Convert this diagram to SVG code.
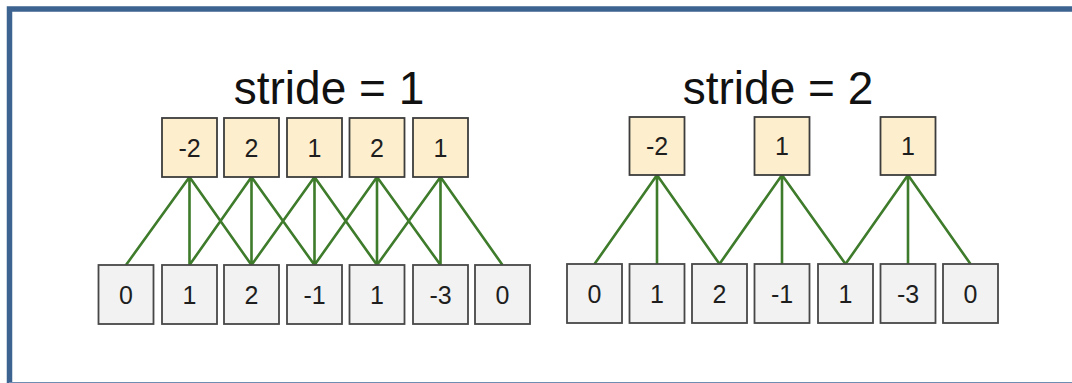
<svg xmlns="http://www.w3.org/2000/svg" width="1072" height="383" viewBox="0 0 1072 383">
<style>
.title{font-family:"Liberation Sans",Arial,sans-serif;font-size:46px;fill:#111;text-anchor:middle}
.num{font-family:"Liberation Sans",Arial,sans-serif;font-size:25px;fill:#1e1e1e;text-anchor:middle}
.out{fill:#fdefcd;stroke:#3c3c3c;stroke-width:1.8}
.in{fill:#f2f2f2;stroke:#474747;stroke-width:1.8}
.edge{stroke:#3e7b2b;stroke-width:2.6;fill:none}
</style>
<rect x="0" y="0" width="1072" height="383" fill="#fff"/>
<path d="M9.5 383 V9 H1072" fill="none" stroke="#3d6390" stroke-width="5.5"/>
<line x1="9" y1="382.5" x2="1072" y2="382.5" stroke="#6f8db0" stroke-width="1.2"/>
<text class="title" x="329" y="104">stride = 1</text>
<text class="title" x="778" y="104">stride = 2</text>
<g id="connectors">
<path class="edge" d="M189.5 177 L126 265 M189.5 177 L189.5 265 M189.5 177 L251.5 265 M251.5 177 L189.5 265 M251.5 177 L251.5 265 M251.5 177 L314.5 265 M314.5 177 L251.5 265 M314.5 177 L314.5 265 M314.5 177 L377 265 M377 177 L314.5 265 M377 177 L377 265 M377 177 L440.5 265 M440.5 177 L377 265 M440.5 177 L440.5 265 M440.5 177 L502.5 265"/>
<path class="edge" d="M657 175 L594.5 264 M657 175 L657 264 M657 175 L719.5 264 M782 175 L719.5 264 M782 175 L782 264 M782 175 L845.5 264 M908 175 L845.5 264 M908 175 L908 264 M908 175 L970.5 264"/>
</g>
<g id="s1-out-0"><rect class="out" x="162" y="118" width="55" height="59"/><text class="num" x="189.5" y="157">-2</text></g>
<g id="s1-out-1"><rect class="out" x="224" y="118" width="55" height="59"/><text class="num" x="251.5" y="157">2</text></g>
<g id="s1-out-2"><rect class="out" x="287" y="118" width="55" height="59"/><text class="num" x="314.5" y="157">1</text></g>
<g id="s1-out-3"><rect class="out" x="349.5" y="118" width="55" height="59"/><text class="num" x="377" y="157">2</text></g>
<g id="s1-out-4"><rect class="out" x="413" y="118" width="55" height="59"/><text class="num" x="440.5" y="157">1</text></g>
<g id="s1-in-0"><rect class="in" x="98.5" y="265" width="55" height="59"/><text class="num" x="126" y="304">0</text></g>
<g id="s1-in-1"><rect class="in" x="162" y="265" width="55" height="59"/><text class="num" x="189.5" y="304">1</text></g>
<g id="s1-in-2"><rect class="in" x="224" y="265" width="55" height="59"/><text class="num" x="251.5" y="304">2</text></g>
<g id="s1-in-3"><rect class="in" x="287" y="265" width="55" height="59"/><text class="num" x="314.5" y="304">-1</text></g>
<g id="s1-in-4"><rect class="in" x="349.5" y="265" width="55" height="59"/><text class="num" x="377" y="304">1</text></g>
<g id="s1-in-5"><rect class="in" x="413" y="265" width="55" height="59"/><text class="num" x="440.5" y="304">-3</text></g>
<g id="s1-in-6"><rect class="in" x="475" y="265" width="55" height="59"/><text class="num" x="502.5" y="304">0</text></g>
<g id="s2-out-0"><rect class="out" x="629.5" y="117" width="55" height="58"/><text class="num" x="657" y="155">-2</text></g>
<g id="s2-out-1"><rect class="out" x="754.5" y="117" width="55" height="58"/><text class="num" x="782" y="155">1</text></g>
<g id="s2-out-2"><rect class="out" x="880.5" y="117" width="55" height="58"/><text class="num" x="908" y="155">1</text></g>
<g id="s2-in-0"><rect class="in" x="567" y="264" width="55" height="59"/><text class="num" x="594.5" y="303">0</text></g>
<g id="s2-in-1"><rect class="in" x="629.5" y="264" width="55" height="59"/><text class="num" x="657" y="303">1</text></g>
<g id="s2-in-2"><rect class="in" x="692" y="264" width="55" height="59"/><text class="num" x="719.5" y="303">2</text></g>
<g id="s2-in-3"><rect class="in" x="754.5" y="264" width="55" height="59"/><text class="num" x="782" y="303">-1</text></g>
<g id="s2-in-4"><rect class="in" x="818" y="264" width="55" height="59"/><text class="num" x="845.5" y="303">1</text></g>
<g id="s2-in-5"><rect class="in" x="880.5" y="264" width="55" height="59"/><text class="num" x="908" y="303">-3</text></g>
<g id="s2-in-6"><rect class="in" x="943" y="264" width="55" height="59"/><text class="num" x="970.5" y="303">0</text></g>
</svg>
